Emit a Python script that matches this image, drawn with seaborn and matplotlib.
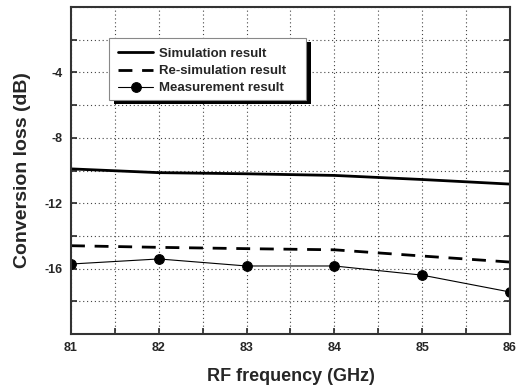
import numpy as np
import pandas as pd
import matplotlib
matplotlib.use('Agg')
import matplotlib.pyplot as plt
import matplotlib.patches as mpatches
from matplotlib.transforms import IdentityTransform
import seaborn as sns

# valores
freq_ghz = [81, 82, 83, 84, 85, 86]
sim_loss = [-9.9, -10.13, -10.2, -10.3, -10.55, -10.83]
resim_loss = [-14.6, -14.7, -14.78, -14.85, -15.23, -15.6]
meas_loss = [-15.72, -15.41, -15.84, -15.84, -16.4, -17.43]

series_names = ['Simulation result', 'Re-simulation result', 'Measurement result']

df = pd.DataFrame({
    'freq': freq_ghz * 3,
    'loss': sim_loss + resim_loss + meas_loss,
    'serie': np.repeat(series_names, len(freq_ghz)),
})

sns.set_style('ticks')
plt.rcParams['font.family'] = ['Liberation Sans', 'DejaVu Sans']
plt.rcParams['font.weight'] = 'bold'

fig = plt.figure(figsize=(5.32, 3.92), dpi=100)
ax = fig.add_axes([0.1335, 0.148, 0.825, 0.834])

sns.lineplot(data=df[df['serie'] == series_names[0]], x='freq', y='loss',
             color='black', linewidth=2.0, ax=ax, label=series_names[0])
sns.lineplot(data=df[df['serie'] == series_names[1]], x='freq', y='loss',
             color='black', linewidth=2.0, ax=ax, label=series_names[1],
             dashes=False, linestyle=(0, (5, 3.5)))
sns.lineplot(data=df[df['serie'] == series_names[2]], x='freq', y='loss',
             color='black', linewidth=0.8, marker='o', markersize=7,
             markeredgecolor='black', ax=ax, label=series_names[2])

ax.set_xlim(81, 86)
ax.set_ylim(-20, 0)
xt = np.arange(81, 86.01, 0.5)
ax.set_xticks(xt)
ax.set_xticklabels([str(int(t)) if t == int(t) else '' for t in xt])
yt = np.arange(-20, 0.01, 2)
ax.set_yticks(yt)
ax.set_yticklabels([str(int(t)) if (t % 4 == 0 and t not in (0, -20)) else '' for t in yt])
ax.tick_params(direction='in', length=4, width=1.2, labelsize=9, top=False, right=True, pad=6)
for lbl in ax.get_xticklabels() + ax.get_yticklabels():
    lbl.set_fontweight('bold')

ax.grid(True, linestyle=(0, (1, 2.5)), color='#444444', linewidth=0.8)
for s in ax.spines.values():
    s.set_linewidth(1.5)
    s.set_color('#333333')

ax.set_xlabel('RF frequency (GHz)', fontsize=13, fontweight='bold', labelpad=10)
ax.set_ylabel('Conversion loss (dB)', fontsize=14, fontweight='bold', labelpad=10)

leg = ax.legend(loc='upper left', bbox_to_anchor=(0.0796, 0.914), fontsize=9.5,
                frameon=False, handlelength=2.6, handletextpad=0.5,
                borderpad=0.45, labelspacing=0.38)
for t in leg.get_texts():
    t.set_fontweight('bold')

# marco propio (mas ancho a la derecha) y sombra negra desplazada
fig.canvas.draw()
bb = leg.get_window_extent()
fx0, fy0 = bb.x0 - 4, bb.y0
fw, fh = bb.width + 4 + 14, bb.height + 4
shadow = mpatches.Rectangle((fx0 + 5, fy0 - 4), fw, fh,
                            transform=IdentityTransform(), facecolor='black',
                            edgecolor='none', zorder=4.5)
frame = mpatches.Rectangle((fx0, fy0), fw, fh,
                           transform=IdentityTransform(), facecolor='white',
                           edgecolor='#888888', linewidth=0.8, zorder=4.6)
ax.add_patch(shadow)
ax.add_patch(frame)

fig.savefig('out.png', dpi=100)
